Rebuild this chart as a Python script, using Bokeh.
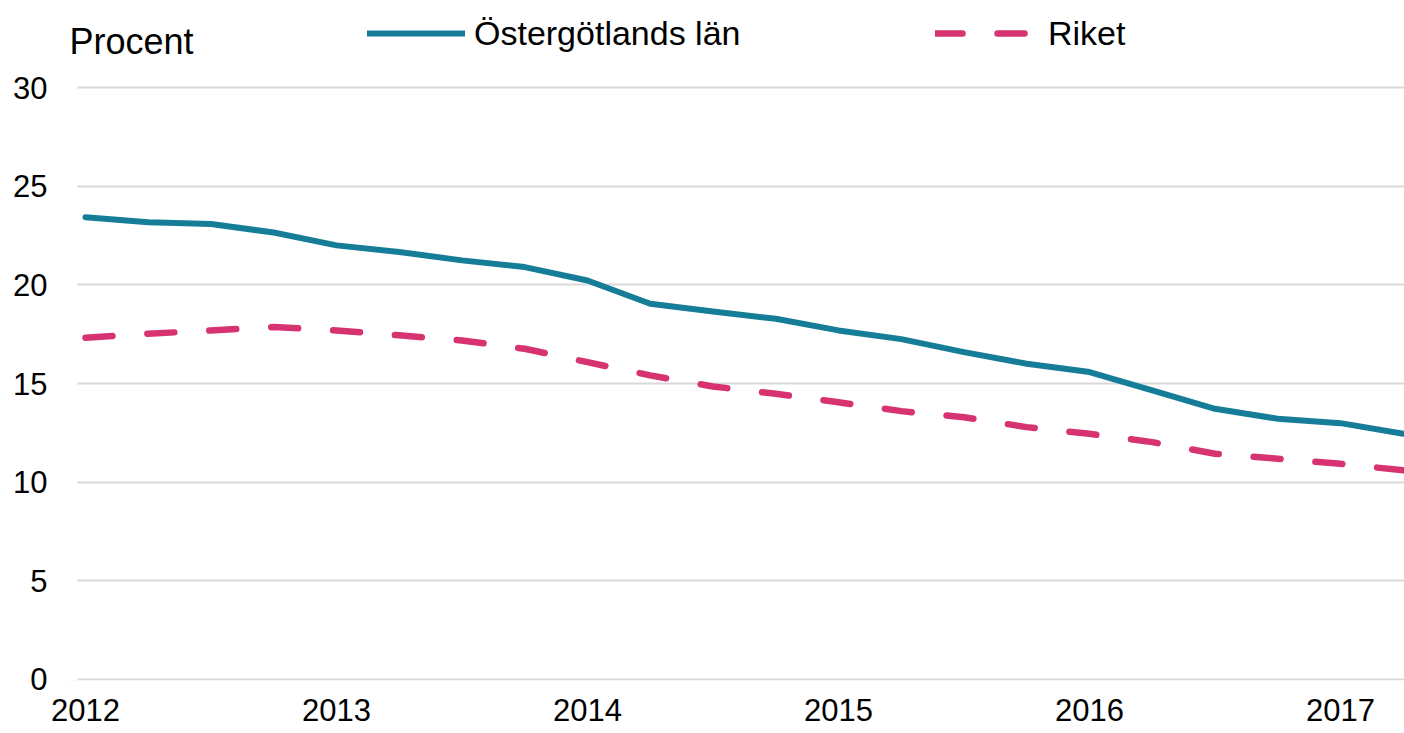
from bokeh.plotting import figure
from bokeh.models import FixedTicker, Legend, LegendItem, Label, Range1d, BoxAnnotation
from bokeh.embed import file_html
from bokeh.resources import INLINE

# Quarterly data, 2012 Q1 .. 2017 Q2
quarters = [2012.00, 2012.25, 2012.50, 2012.75,
            2013.00, 2013.25, 2013.50, 2013.75,
            2014.00, 2014.25, 2014.50, 2014.75,
            2015.00, 2015.25, 2015.50, 2015.75,
            2016.00, 2016.25, 2016.50, 2016.75,
            2017.00, 2017.25]
ostergotland = [23.43, 23.17, 23.08, 22.65,
                22.00, 21.66, 21.24, 20.90,
                20.22, 19.04, 18.65, 18.28,
                17.69, 17.25, 16.59, 16.00,
                15.58, 14.65, 13.72, 13.21,
                12.99, 12.45]
riket = [17.32, 17.52, 17.69, 17.86,
         17.69, 17.44, 17.18, 16.76,
         16.08, 15.41, 14.85, 14.48,
         14.05, 13.60, 13.29, 12.79,
         12.45, 12.03, 11.44, 11.19,
         10.93, 10.60]
x_ticks = [2012, 2013, 2014, 2015, 2016, 2017]
y_ticks = [0, 5, 10, 15, 20, 25, 30]
label_ost = "Östergötlands län"
label_riket = "Riket"
y_title = "Procent"

FONT = "Liberation Sans"
TEAL = "#167d99"
PINK = "#d63370"

X_START, X_END = 2011.9283, 2017.255
GRID_START = 2011.968

p = figure(width=1404, height=733, output_backend="svg", toolbar_location=None,
           x_range=Range1d(X_START, X_END), y_range=Range1d(-0.0507, 34.409),
           min_border_left=67, min_border_right=0, min_border_top=0, min_border_bottom=53)
p.outline_line_color = None
p.background_fill_color = "white"

r1 = p.line(quarters, ostergotland, line_color=TEAL, line_width=6,
            line_join="round", line_cap="round")
r2 = p.line(quarters, riket, line_color=PINK, line_width=6.5,
            line_dash="27 35", line_join="round", line_cap="round")

p.xgrid.grid_line_color = None
p.ygrid.grid_line_color = "#d9d9d9"
p.ygrid.grid_line_width = 2

# white strip so the gridlines start a little right of the frame edge
p.add_layout(BoxAnnotation(left=X_START, right=GRID_START, fill_color="white",
                           fill_alpha=1, line_color=None))

p.xaxis.ticker = FixedTicker(ticks=x_ticks)
p.yaxis.ticker = FixedTicker(ticks=y_ticks)
for ax in (p.xaxis[0], p.yaxis[0]):
    ax.axis_line_color = None
    ax.major_tick_line_color = None
    ax.minor_tick_line_color = None
    ax.major_tick_out = 0
    ax.minor_tick_out = 0
    ax.major_label_text_font = FONT
    ax.major_label_text_font_size = "31px"
    ax.major_label_text_color = "black"
p.xaxis.major_label_standoff = 18
p.yaxis.major_label_standoff = 20

leg1 = Legend(items=[LegendItem(label=label_ost, renderers=[r1])],
              location=(300, 627), orientation="horizontal",
              background_fill_alpha=0, border_line_alpha=0, padding=0, margin=0,
              glyph_width=98, glyph_height=40, label_height=40, label_standoff=9,
              label_text_font=FONT, label_text_font_size="34px", label_text_color="black")
leg2 = Legend(items=[LegendItem(label=label_riket, renderers=[r2])],
              location=(868, 627), orientation="horizontal",
              background_fill_alpha=0, border_line_alpha=0, padding=0, margin=0,
              glyph_width=105, glyph_height=40, label_height=40, label_standoff=8,
              label_text_font=FONT, label_text_font_size="34px", label_text_color="black")
p.add_layout(leg1)
p.add_layout(leg2)

title = Label(x=2, y=639, x_units="screen", y_units="screen", text=y_title,
              text_font=FONT, text_font_size="36px", text_color="black",
              text_baseline="middle", text_align="left")
p.add_layout(title)

open("out.html", "w").write(file_html(p, INLINE))
